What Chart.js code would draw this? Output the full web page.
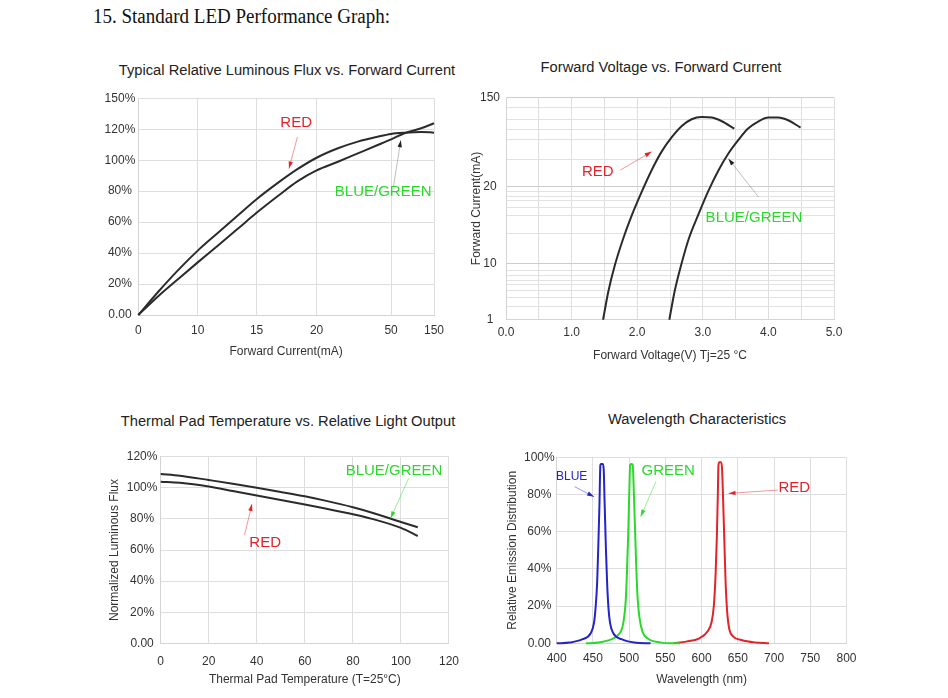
<!DOCTYPE html>
<html>
<head>
<meta charset="utf-8">
<title>Standard LED Performance Graph</title>
<script src="https://cdn.jsdelivr.net/npm/chart.js@4.4.1/dist/chart.umd.min.js"></script>
<style>
  body { margin: 0; background: #fff; }
  #page { position: relative; width: 948px; height: 698px; overflow: hidden; font-family: "Liberation Sans", Arial, sans-serif; }
  .heading { position: absolute; left: 93px; top: 5px; font: 20px "Liberation Serif", "Times New Roman", serif; color: #111; white-space: nowrap; transform: scaleX(0.95); transform-origin: left top; }
  .title { position: absolute; width: 460px; text-align: center; font-size: 14.7px; line-height: 18px; color: #222; white-space: nowrap; }
  canvas { position: absolute; }
</style>
</head>
<body>
<div id="page">
  <div class="heading">15. Standard LED Performance Graph:</div>
  <div class="title" style="left:57px;top:61px">Typical Relative Luminous Flux vs. Forward Current</div>
  <div class="title" style="left:431px;top:58px">Forward Voltage vs. Forward Current</div>
  <div class="title" style="left:58px;top:412px">Thermal Pad Temperature vs. Relative Light Output</div>
  <div class="title" style="left:467px;top:410px">Wavelength Characteristics</div>
  <canvas id="fluxChart" width="370" height="280" style="left:95px;top:90px"></canvas>
  <canvas id="voltChart" width="390" height="280" style="left:465px;top:90px"></canvas>
  <canvas id="tempChart" width="375" height="253" style="left:95px;top:445px"></canvas>
  <canvas id="waveChart" width="370" height="253" style="left:495px;top:445px"></canvas>
</div>
<script>
// Luminous flux vs forward current
const fluxCurrent = [0, 3.4, 6.7, 10, 11.7, 13.4, 15, 16.8, 18.4, 20, 28.6, 36.6, 44.6, 50, 81, 120, 150];
const fluxRed = [0, 15.2, 29.0, 41.6, 53.0, 64.3, 74.8, 85.5, 94.2, 101.6, 107.7, 112.0, 115.2, 117.0, 117.8, 118.3, 117.8];
const fluxBlueGreen = [0, 12.3, 23.2, 34.0, 44.8, 55.7, 66.0, 77.0, 86.3, 93.4, 99.0, 104.4, 109.8, 113.5, 117.4, 121.0, 125.8];
const fluxCurrentTicks = [0, 10, 15, 20, 50, 150];
const fluxPercentTicks = [0, 20, 40, 60, 80, 100, 120, 150];

// Forward voltage vs forward current
const fvRedVolt = [1.48, 1.56, 1.66, 1.79, 1.92, 2.07, 2.22, 2.37, 2.53, 2.68, 2.83, 2.98, 3.14, 3.29, 3.48];
const fvRedCurrent = [1.0, 3.2, 9.5, 12.6, 15.5, 19.1, 28.9, 43.7, 61.2, 78.5, 91.3, 96.2, 94.9, 87.3, 74.0];
const fvBGVolt = [2.49, 2.57, 2.67, 2.79, 2.93, 3.08, 3.24, 3.39, 3.54, 3.69, 3.85, 4.00, 4.15, 4.30, 4.49];
const fvBGCurrent = [1.0, 3.2, 9.5, 12.6, 15.5, 19.1, 28.9, 42.1, 56.9, 74.0, 87.3, 94.9, 94.9, 89.3, 75.7];
const fvVoltTicks = [0, 0.5, 1, 1.5, 2, 2.5, 3, 3.5, 4, 4.5, 5];
const fvCurrentTicks = [1, 10, 20, 150];
const fvCurrentGrid = [1, 1.7, 2.5, 3.3, 4.2, 5.1, 6.2, 7.6, 10, 13.1, 15.4, 16.6, 17.7, 18.3, 19.2, 20, 36.4, 57.8, 72.4, 90.7, 119.7, 150];

// Thermal pad temperature vs relative light output
const padTemp = [0, 8, 20, 30, 40, 50, 60, 68, 80, 88, 100, 107];
const padBlueGreen = [108.9, 107.8, 105.0, 102.6, 100.0, 97.3, 94.5, 91.9, 87.5, 84.0, 78.0, 74.6];
const padRed = [103.9, 103.2, 100.8, 97.9, 95.0, 92.2, 89.2, 86.8, 83.0, 80.0, 74.2, 69.0];
const padTempTicks = [0, 20, 40, 60, 80, 100, 120];
const padPercentTicks = [0, 20, 40, 60, 80, 100, 120];

// Wavelength characteristics
const blueNm = [400, 418, 435.7, 446.9, 451.4, 453.6, 455.9, 457.6, 459, 460.3, 461.2, 463.4, 464.8, 466.1, 467.9, 469.7, 471.5, 473.7, 478.2, 489.4, 507.2, 529.6];
const blueLevel = [0, 0.4, 2.2, 5.4, 10.8, 18.8, 33.2, 54.7, 74.4, 95.9, 96.4, 96.4, 94.1, 76.2, 51.1, 31.4, 18.8, 10.8, 5.4, 2.2, 0.4, 0];
const greenNm = [440.2, 458.1, 476, 484.9, 490.3, 492.9, 495.2, 497, 498.8, 500.1, 501.4, 502.8, 505, 506.3, 508.1, 509.9, 511.7, 514.4, 518.4, 525.1, 543, 560.8, 569.7];
const greenLevel = [0, 0.4, 2.2, 4.5, 8.1, 13.4, 22.4, 38.5, 60, 79.7, 95.9, 96.4, 95.9, 83.3, 61.8, 40.3, 24.2, 13.4, 6.3, 2.7, 0.5, 0, 0];
const redNm = [561.2, 579, 596.9, 608.1, 613.9, 617, 619.3, 621, 622.4, 623.3, 624.6, 626.8, 628.2, 629.5, 631.3, 633.1, 635.3, 638, 643.8, 655, 672.9, 693];
const redLevel = [0, 0.9, 2.7, 6.3, 11.6, 20.6, 36.7, 56.5, 79.7, 95.9, 97.3, 97.3, 94.1, 79.7, 56.5, 33.2, 17, 8.1, 3.6, 1.8, 0.5, 0];
const waveTicks = [400, 450, 500, 550, 600, 650, 700, 750, 800];
const wavePercentTicks = [0, 20, 40, 60, 80, 100];

const RED = '#e3232a';
const GREEN = '#2bd92b';
const BLUE = '#2424c8';
const INK = '#2b2b2b';
const FONT = "'Liberation Sans', Arial, sans-serif";

// axis whose labelled values sit at uneven spots, like the printed datasheet grid
class PiecewiseScale extends Chart.LinearScale {
  static id = 'piecewise';
  static defaults = {};

  determineDataLimits() {
    const a = this.options.anchors;
    this.min = a[0];
    this.max = a[a.length - 1];
  }
  buildTicks() {
    return this.options.gridValues.map(v => ({ value: v }));
  }
  fractions() {
    const a = this.options.anchors;
    return this.options.fractions || a.map((_, i) => i / (a.length - 1));
  }
  getPixelForValue(v) {
    const a = this.options.anchors, f = this.fractions();
    let i = 0;
    while (i < a.length - 2 && v > a[i + 1]) i++;
    const t = this.options.logSteps
      ? Math.log(v / a[i]) / Math.log(a[i + 1] / a[i])
      : (v - a[i]) / (a[i + 1] - a[i]);
    return this.getPixelForDecimal(f[i] + t * (f[i + 1] - f[i]));
  }
  getValueForPixel(px) {
    const a = this.options.anchors, f = this.fractions();
    const d = this.getDecimalForPixel(px);
    let i = 0;
    while (i < f.length - 2 && d > f[i + 1]) i++;
    const t = (d - f[i]) / (f[i + 1] - f[i]);
    return this.options.logSteps ? a[i] * Math.pow(a[i + 1] / a[i], t) : a[i] + t * (a[i + 1] - a[i]);
  }
}
Chart.register(PiecewiseScale);

const pct = v => (v === 0 ? '0.00' : v + '%');
const points = (xs, ys) => xs.map((x, i) => ({ x: x, y: ys[i] }));
const fixTicks = values => scale => { scale.ticks = values.map(v => ({ value: v })); };
// fixed y-axis width; the label overflow is left to the layout padding
const yWidth = w => s => { s.width = w; s.paddingTop = 0; s.paddingBottom = 0; };

function line(data, color) {
  return { data: data, borderColor: color, borderWidth: 2, pointRadius: 0, cubicInterpolationMode: 'monotone', clip: false };
}

function axis(extra) {
  const base = {
    grid: { color: '#dedede', drawTicks: false },
    border: { color: '#d4d4d4' },
    ticks: { font: { family: FONT, size: 12 }, color: '#333', autoSkip: false, maxRotation: 0 },
    title: { font: { family: FONT, size: 12 }, color: '#333' }
  };
  return Object.assign(base, extra, {
    ticks: Object.assign(base.ticks, extra.ticks),
    title: Object.assign(base.title, extra.title),
    grid: Object.assign(base.grid, extra.grid)
  });
}

// red / green text labels with their thin pointer arrows
function notes(items) {
  return {
    id: 'notes',
    afterDatasetsDraw(chart) {
      const { ctx, scales: { x, y } } = chart;
      const px = p => [x.getPixelForValue(p[0]), y.getPixelForValue(p[1])];
      ctx.save();
      for (const n of items) {
        if (n.from) {
          const [x1, y1] = px(n.from), [x2, y2] = px(n.to);
          ctx.strokeStyle = n.line || n.color;
          ctx.globalAlpha = 0.6;
          ctx.lineWidth = 0.8;
          ctx.beginPath(); ctx.moveTo(x1, y1); ctx.lineTo(x2, y2); ctx.stroke();
          ctx.globalAlpha = 1;
          const a = Math.atan2(y2 - y1, x2 - x1), c = Math.cos(a), s = Math.sin(a);
          ctx.fillStyle = n.head || n.color;
          ctx.beginPath();
          ctx.moveTo(x2, y2);
          ctx.lineTo(x2 - 7 * c + 2.2 * s, y2 - 7 * s - 2.2 * c);
          ctx.lineTo(x2 - 7 * c - 2.2 * s, y2 - 7 * s + 2.2 * c);
          ctx.closePath(); ctx.fill();
        }
        if (n.text) {
          const [tx, ty] = px(n.at);
          ctx.font = (n.size || 15) + 'px ' + FONT;
          ctx.fillStyle = n.color;
          ctx.textAlign = 'center';
          ctx.textBaseline = 'middle';
          ctx.fillText(n.text, tx, ty);
        }
      }
      ctx.restore();
    }
  };
}

function makeChart(id, cfg) {
  return new Chart(document.getElementById(id), {
    type: 'line',
    data: { datasets: cfg.datasets },
    options: {
      responsive: false,
      animation: false,
      events: [],
      layout: { padding: cfg.padding },
      plugins: { legend: { display: false }, tooltip: { enabled: false } },
      scales: { x: cfg.x, y: cfg.y }
    },
    plugins: [notes(cfg.notes)]
  });
}

makeChart('fluxChart', {
  padding: { top: 8.3, right: 31, left: 0, bottom: 0 },
  datasets: [
    line(points(fluxCurrent, fluxRed), INK),
    line(points(fluxCurrent, fluxBlueGreen), INK)
  ],
  x: axis({
    type: 'piecewise', anchors: fluxCurrentTicks, fractions: [0, 0.201, 0.4, 0.603, 0.855, 1], gridValues: fluxCurrentTicks,
    ticks: { padding: 8, callback: v => String(v) },
    title: { display: true, text: 'Forward Current(mA)', padding: { top: 0, bottom: 10.8 } },
    afterFit: s => { s.height = 55; }
  }),
  y: axis({
    type: 'piecewise', anchors: fluxPercentTicks, gridValues: fluxPercentTicks,
    ticks: { padding: 3, crossAlign: 'center', callback: pct },
    afterFit: yWidth(43.3)
  }),
  notes: [
    { text: 'RED', color: RED, at: [18.3, 126.1], from: [18.4, 115], to: [17.7, 94.6] },
    { text: 'BLUE/GREEN', color: GREEN, at: [46.8, 79.4], from: [55.3, 82.8], to: [72.6, 112.9], line: '#777', head: '#222' }
  ]
});

makeChart('voltChart', {
  padding: { top: 7.3, right: 21, left: 0, bottom: 0 },
  datasets: [
    line(points(fvRedVolt, fvRedCurrent), INK),
    line(points(fvBGVolt, fvBGCurrent), INK)
  ],
  x: axis({
    type: 'linear', min: 0, max: 5, afterBuildTicks: fixTicks(fvVoltTicks),
    ticks: { padding: 6, callback: v => (Number.isInteger(v) ? v.toFixed(1) : '') },
    title: { display: true, text: 'Forward Voltage(V) Tj=25 °C', padding: { top: 0, bottom: 6.8 } },
    afterFit: s => { s.height = 50.3; }
  }),
  y: axis({
    type: 'piecewise', anchors: fvCurrentTicks, fractions: [0, 0.2515, 0.599, 1], logSteps: true, gridValues: fvCurrentGrid,
    grid: { color: ctx => (fvCurrentTicks.includes(ctx.tick.value) ? '#cdcdcd' : '#e2e2e2') },
    ticks: { padding: 6, crossAlign: 'center', callback: v => (fvCurrentTicks.includes(v) ? String(v) : '') },
    title: { display: true, text: 'Forward Current(mA)', padding: { top: 4.8, bottom: 0 } },
    afterFit: yWidth(41)
  }),
  notes: [
    { text: 'RED', color: RED, at: [1.40, 27.6], from: [1.74, 28.9], to: [2.22, 43.9] },
    { text: 'BLUE/GREEN', color: GREEN, at: [3.78, 15.1], from: [3.85, 18.2], to: [3.39, 37.5], line: '#777', head: '#222' }
  ]
});

makeChart('tempChart', {
  padding: { top: 11.7, right: 13.3, left: 0, bottom: 0 },
  datasets: [
    line(points(padTemp, padBlueGreen), INK),
    line(points(padTemp, padRed), INK)
  ],
  x: axis({
    type: 'linear', min: 0, max: 120, afterBuildTicks: fixTicks(padTempTicks),
    ticks: { padding: 11 },
    title: { display: true, text: 'Thermal Pad Temperature (T=25°C)', padding: { top: 0, bottom: 10.8 } },
    afterFit: s => { s.height = 54.7; }
  }),
  y: axis({
    type: 'linear', min: 0, max: 120, afterBuildTicks: fixTicks(padPercentTicks),
    ticks: { padding: 3.3, crossAlign: 'center', callback: pct },
    title: { display: true, text: 'Normalized Luminous Flux', padding: { top: 12.8, bottom: 0 } },
    afterFit: yWidth(65.7)
  }),
  notes: [
    { text: 'BLUE/GREEN', color: GREEN, at: [97.1, 110.8], from: [103.2, 106.1], to: [95.7, 80.4] },
    { text: 'RED', color: RED, at: [43.5, 64.5], from: [34.9, 69.6], to: [38.0, 89.6] }
  ]
});

makeChart('waveChart', {
  padding: { top: 12.3, right: 11.7, left: 0, bottom: 0 },
  datasets: [
    line(points(blueNm, blueLevel), BLUE),
    line(points(greenNm, greenLevel), GREEN),
    line(points(redNm, redLevel), RED)
  ],
  x: axis({
    type: 'linear', min: 400, max: 800, afterBuildTicks: fixTicks(waveTicks),
    ticks: { padding: 8.5 },
    title: { display: true, text: 'Wavelength (nm)', padding: { top: 0, bottom: 10.8 } },
    afterFit: s => { s.height = 54.7; }
  }),
  y: axis({
    type: 'linear', min: 0, max: 100, afterBuildTicks: fixTicks(wavePercentTicks),
    ticks: { padding: 2, crossAlign: 'center', callback: pct },
    title: { display: true, text: 'Relative Emission Distribution', padding: { top: 10.8, bottom: 0 } },
    afterFit: yWidth(61.7)
  }),
  notes: [
    { text: 'BLUE', color: BLUE, size: 12, at: [420.6, 89.4], from: [424.7, 84.2], to: [451.6, 78.8] },
    { text: 'GREEN', color: GREEN, at: [554, 92.5], from: [537, 86.9], to: [515.9, 68.1] },
    { text: 'RED', color: RED, at: [728, 83.5], from: [705.4, 82.4], to: [637.2, 80.6] }
  ]
});
</script>
</body>
</html>
